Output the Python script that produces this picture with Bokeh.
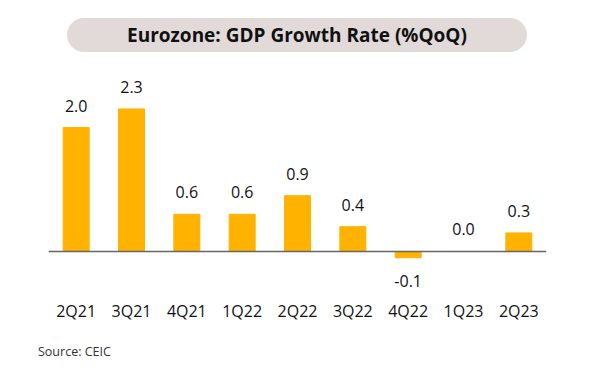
from bokeh.plotting import figure
from bokeh.models import ColumnDataSource, Span, Div
from bokeh.layouts import column
from bokeh.embed import file_html
from bokeh.resources import INLINE

quarters = ["2Q21", "3Q21", "4Q21", "1Q22", "2Q22", "3Q22", "4Q22", "1Q23", "2Q23"]
growth = [2.0, 2.3, 0.6, 0.6, 0.9, 0.4, -0.1, 0.0, 0.3]
title_text = "Eurozone: GDP Growth Rate (%QoQ)"
source_text = "Source: CEIC"

labels = [f"{v:.1f}" for v in growth]
offsets = [23 if v < 0 else -22 for v in growth]
src = ColumnDataSource(dict(q=quarters, v=growth, lab=labels, off=offsets))

FONT = "Open Sans"

p = figure(width=584, height=283, x_range=quarters, y_range=(-0.71, 2.92),
           output_backend="svg", toolbar_location=None,
           min_border_left=48, min_border_right=38, min_border_top=18, min_border_bottom=40)
p.outline_line_color = None
p.background_fill_color = "white"
p.border_fill_color = "white"
p.grid.visible = False
p.yaxis.visible = False

p.vbar(x="q", top="v", bottom=0, width=0.47, source=src, color="#FFB300")

p.add_layout(Span(location=0, dimension="width", line_color="#666666", line_width=1.5))

p.text(x="q", y="v", text="lab", y_offset="off", source=src, text_align="center",
       text_baseline="middle", text_font_size="16px", text_color="#111111",
       text_font={"value": FONT})

xa = p.xaxis[0]
xa.axis_line_color = None
xa.major_tick_line_color = None
xa.minor_tick_line_color = None
xa.major_tick_out = 0
xa.major_tick_in = 0
xa.major_label_standoff = 4
xa.major_label_text_font_size = "16px"
xa.major_label_text_color = "#111111"
xa.major_label_text_font = FONT

title_div = Div(text=title_text, width=460, height=34, margin=(18, 0, 0, 67),
                styles={"background-color": "#E2D9D9", "border-radius": "17px",
                        "font-family": FONT, "font-weight": "bold", "font-size": "19px",
                        "color": "#111111", "text-align": "center", "line-height": "34px",
                        "display": "block"})
source_div = Div(text=source_text, width=200, height=16, margin=(9, 0, 0, 38),
                 styles={"font-family": FONT, "font-size": "12.5px", "color": "#333333",
                         "line-height": "16px"})

layout = column(title_div, p, source_div, spacing=0)
open("out.html", "w").write(file_html(layout, INLINE))
